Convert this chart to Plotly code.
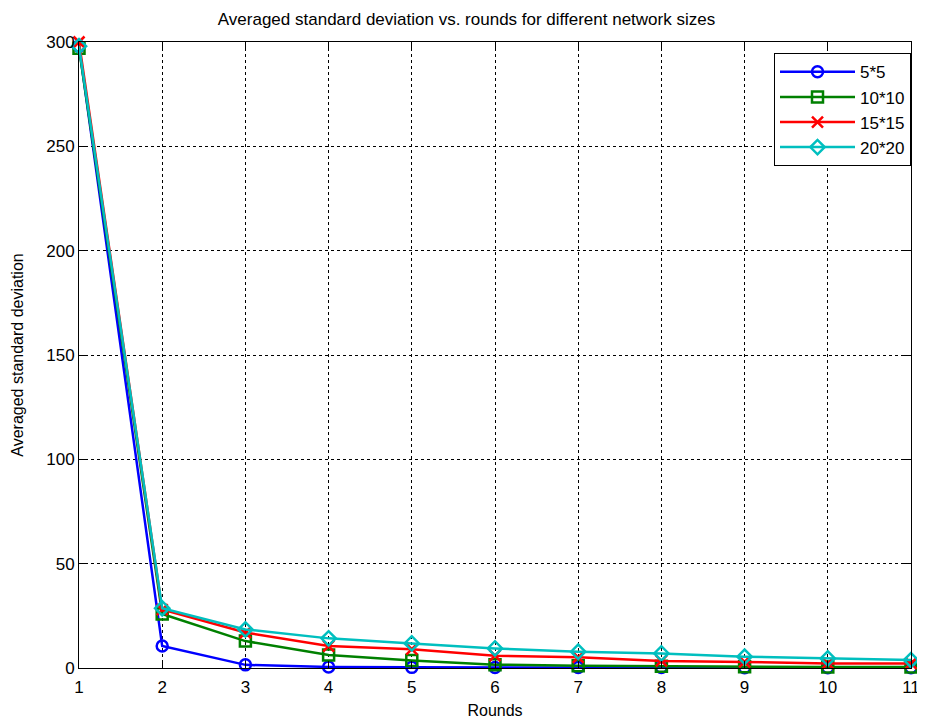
import plotly.graph_objects as go

rounds = [1, 2, 3, 4, 5, 6, 7, 8, 9, 10, 11]
s5 = [298, 10.5, 1.5, 0.5, 0.3, 0.2, 0.2, 0.2, 0.1, 0.1, 0.1]
s10 = [297, 25.9, 12.9, 6.2, 3.6, 1.6, 1.1, 0.8, 0.6, 0.5, 0.5]
s15 = [300, 28.0, 17.0, 10.5, 9.0, 5.9, 5.1, 3.4, 2.9, 2.2, 2.2]
s20 = [298, 28.6, 18.5, 14.2, 11.8, 9.4, 7.8, 7.0, 5.4, 4.6, 3.8]
names = ["5*5", "10*10", "15*15", "20*20"]
colors = ["#0000ff", "#008000", "#ff0000", "#00bfbf"]
symbols = ["circle-open", "square-open", "x-thin-open", "diamond-open"]

fig = go.Figure()
for name, ys, c, sym in zip(names, [s5, s10, s15, s20], colors, symbols):
    fig.add_trace(go.Scatter(
        x=rounds, y=ys, name=name, mode="lines+markers",
        line=dict(color=c, width=2.5),
        marker=dict(symbol=sym, size=11, color=c, line=dict(color=c, width=2.5)),
        cliponaxis=False,
    ))

axis_common = dict(
    showline=True, linecolor="black", linewidth=1, mirror="allticks",
    ticks="inside", ticklen=7, tickcolor="black",
    showgrid=True, gridcolor="black", griddash="dot", gridwidth=1,
    zeroline=False, tickfont=dict(size=17, color="black"),
)

fig.update_layout(
    width=917, height=711,
    paper_bgcolor="white", plot_bgcolor="white",
    font=dict(family="Liberation Sans, Arial, sans-serif", color="black"),
    margin=dict(l=71, r=14, t=34, b=51, autoexpand=False),
    title=dict(text="Averaged standard deviation vs. rounds for different network sizes",
               x=0.5, xanchor="center", y=0.985, yanchor="middle",
               font=dict(size=17, color="black")),
    xaxis=dict(range=[1, 11], tickvals=rounds, ticklabelstandoff=4,
               title=dict(text="Rounds", font=dict(size=16), standoff=10),
               **axis_common),
    yaxis=dict(range=[0, 300], tickvals=[0, 50, 100, 150, 200, 250, 300],
               title=dict(text="Averaged standard deviation", font=dict(size=16), standoff=18),
               **axis_common),
    legend=dict(x=1.0, y=0.982, xanchor="right", yanchor="top",
                bgcolor="white", bordercolor="black", borderwidth=1,
                font=dict(size=17, color="black"), itemwidth=75,
                tracegroupgap=0),
    showlegend=True,
)

fig.write_html("out.html")
